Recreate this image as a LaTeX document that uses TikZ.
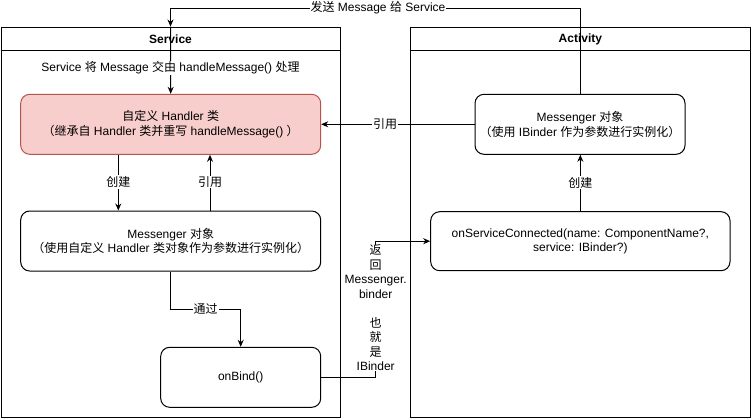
\documentclass[tikz,border=0pt]{standalone}
\usepackage{fontspec}
\setmainfont{Liberation Sans}
\newfontfamily\zhfont{Noto Sans CJK SC}
\newcommand\zh[1]{{\zhfont #1}}
\usetikzlibrary{arrows.meta}
\definecolor{hfill}{HTML}{F8CECC}
\definecolor{hdraw}{HTML}{B85450}
\begin{document}
\begin{tikzpicture}[x=1pt,y=-1pt,
  font=\fontsize{12}{14.5}\selectfont, line width=1pt,
  box/.style={draw, rounded corners=9pt, align=center, inner sep=0pt},
  cont/.style={draw, inner sep=0pt},
  arr/.style={-{Stealth[length=7pt,width=6pt]}},
  lbl/.style={fill=white, inner sep=1pt, align=center}]
\useasboundingbox (0,0) rectangle (751,418);

% containers
\node[cont, minimum width=339pt, minimum height=390pt] (svc) at (170.5,222) {};
\node[cont, minimum width=339.3pt, minimum height=390pt] (act) at (580.35,222) {};
\draw (svc.west |- 0,50) -- (svc.east |- 0,50);
\draw (act.west |- 0,50) -- (act.east |- 0,50);
\node[font=\fontsize{12}{14.5}\selectfont\bfseries] (svch) at (170.5,39) {Service};
\node[font=\fontsize{12}{14.5}\selectfont\bfseries] (acth) at (580.35,39) {Activity};

% nodes
\node[box, fill=hfill, draw=hdraw, minimum width=300pt, minimum height=60pt] (handler) at (170.7,124.3)
  {\zh{自定义} Handler \zh{类}\\\zh{（继承自} Handler \zh{类并重写} handleMessage() \zh{）}};
\node[box, minimum width=300pt, minimum height=60pt] (smsg) at (170.7,241)
  {Messenger \zh{对象}\\\zh{（使用自定义} Handler \zh{类对象作为参数进行实例化）}};
\node[box, minimum width=160pt, minimum height=60pt] (onbind) at (240.7,377.3) {onBind()};
\node[box, minimum width=210pt, minimum height=60pt] (amsg) at (580,124.3)
  {Messenger \zh{对象}\\\zh{（使用} IBinder \zh{作为参数进行实例化）}};
\node[box, minimum width=299.3pt, minimum height=59pt] (onsc) at (580.35,241.2)
  {onServiceConnected(name: ComponentName?,\\ service: IBinder?)};

% helper coordinates
\coordinate (top) at (0,8);
\coordinate (c1) at (118.3,0);
\coordinate (c2) at (210,0);
\coordinate (c3) at (170,0);
\coordinate (c4) at (0,309);
\coordinate (j) at (375.7,0);

% edges
\draw[arr] (amsg.north) |- (svc.north |- top) -- (svc.north);
\node[lbl] (l1) at (378,8) {\zh{发送} Message \zh{给} Service};

\draw[arr] (svc.north) -- (handler.north);
\node[lbl] (l2) at (170.5,68) {Service \zh{将} Message \zh{交由} handleMessage() \zh{处理}};

\draw[arr] (handler.south -| c1) -- (smsg.north -| c1);
\node[lbl] (l3) at (118.3,182) {\zh{创建}};
\draw[arr] (smsg.north -| c2) -- (handler.south -| c2);
\node[lbl] (l4) at (210,182) {\zh{引用}};

\draw[arr] (smsg.south -| c3) |- (onbind.north |- c4) -- (onbind.north);
\node[lbl] (l5) at (205.5,309) {\zh{通过}};

\draw[arr] (onbind.east) -| (j |- onsc.west) -- (onsc.west);
\node[lbl, inner sep=0pt] (l6) at (375.7,308)
  {\zh{返}\\\zh{回}\\Messenger.\\binder\\\mbox{}\\\zh{也}\\\zh{就}\\\zh{是}\\IBinder};

\draw[arr] (amsg.west) -- (handler.east);
\node[lbl] (l7) at (385,124.3) {\zh{引用}};

\draw[arr] (onsc.north) -- (onsc.north |- amsg.south);
\node[lbl] (l8) at (580.35,182.7) {\zh{创建}};
\end{tikzpicture}
\end{document}
